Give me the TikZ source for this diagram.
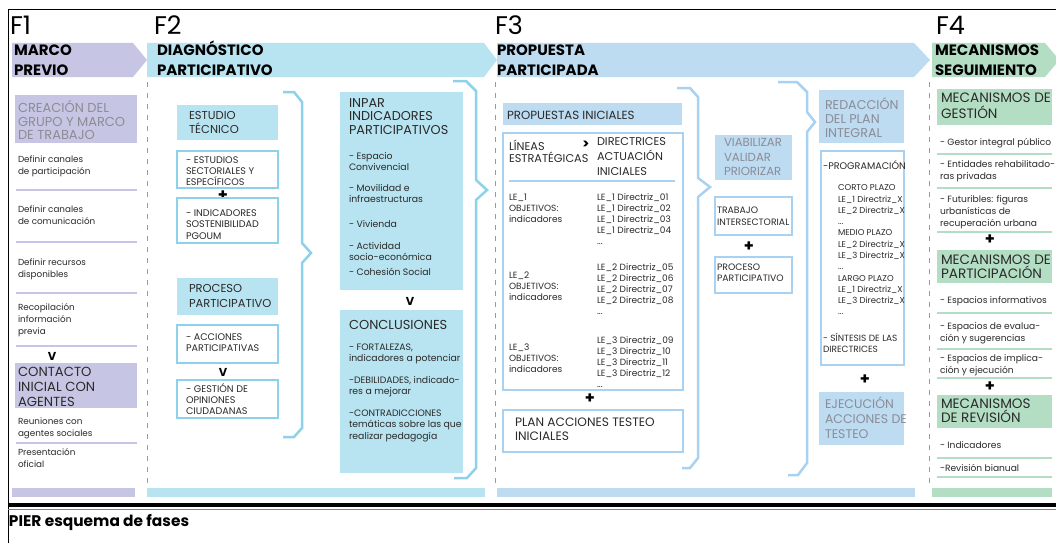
\documentclass[tikz,border=0pt]{standalone}
\usepackage{fontspec}
\setmainfont{Poppins}
\definecolor{lav}{HTML}{C6C6E4}
\definecolor{cyanF}{HTML}{B8E3F0}
\definecolor{blueF}{HTML}{BDDBF1}
\definecolor{greenF}{HTML}{B4DEC4}
\definecolor{cyanL}{HTML}{8DD2EA}
\definecolor{blueL}{HTML}{A9D2F2}
\definecolor{greyT}{HTML}{8C8C96}
\definecolor{darkT}{HTML}{2A2A2A}
\definecolor{dashG}{HTML}{9A9A9A}
\newcommand\fsz[2]{\fontsize{#1}{#2}\selectfont}
% invisible strut that gives every first line the same height
\newcommand\fst{\rule{0pt}{.7\baselineskip}}
\begin{document}
\begin{tikzpicture}[x=1pt,y=-1pt,
  t/.style={inner sep=0pt, outer sep=0pt, anchor=north west, align=left},
  tx/.style 2 args={t, font=\fsz{#1}{#2}, text=darkT, yshift={0.7*#2pt-0.34*#1pt}},
  tb/.style 2 args={tx={#1}{#2}, font=\bfseries\fsz{#1}{#2}, text=black},
  bx/.style={inner sep=0pt, outer sep=0pt, anchor=north west},
  olc/.style={bx, draw=cyanL, line width=2.5pt, fill=white},
  olb/.style={bx, draw=blueL, line width=2.5pt, fill=white},
  sym/.style={inner sep=0pt, font=\bfseries\fsz{16}{16}},
  vee/.style={inner sep=0pt, font=\bfseries\fsz{11.5}{11.5}},
  sepl/.style={line width=2.5pt},
  brc/.style={line width=2.5pt, line join=miter},
  dsh/.style={dashG, line width=0.6pt, dash pattern=on 5pt off 6pt},
]
\useasboundingbox (0,0) rectangle (1056,543);
\fill[white] (0,0) rectangle (1056,543);

% frame
\draw[line width=1pt] (8,543) -- (8,10) -- (1056,10);
\draw[line width=4pt] (8,505) -- (1056,505);
\draw[gray, line width=0.6pt] (8,509.5) -- (1056,509.5);
\node[tb={15.4}{18}] (title) at (9,521) {\fst PIER esquema de fases};

% phase bands
\fill[lav]    (12,43) -- (133,43) -- (147,60) -- (133,77) -- (12,77) -- cycle;
\fill[cyanF]  (147,43) -- (484,43) -- (497,60) -- (484,77) -- (147,77) -- cycle;
\fill[blueF]  (497,43) -- (914,43) -- (930,60) -- (914,77) -- (497,77) -- cycle;
\fill[greenF] (932,43) -- (1045,43) -- (1056,56) -- (1056,64) -- (1045,77) -- (932,77) -- cycle;

% phase labels
\node[tx={25.5}{30}, text=black] (f1) at (10,25.5) {\fst F1};
\node[tx={25.5}{30}, text=black] (f2) at (154,25.5) {\fst F2};
\node[tx={25.5}{30}, text=black] (f3) at (495,25.5) {\fst F3};
\node[tx={25.5}{30}, text=black] (f4) at (936,25.5) {\fst F4};
\node[tb={15}{20}] (h1) at (14,50) {\fst MARCO\\PREVIO};
\node[tb={15}{20}] (h2) at (157,50) {\fst DIAGNÓSTICO\\PARTICIPATIVO};
\node[tb={15}{20}] (h3) at (497,50) {\fst PROPUESTA\\PARTICIPADA};
\node[tb={15}{20}] (h4) at (935,50) {\fst MECANISMOS\\SEGUIMIENTO};

% dashed phase separators
\draw[dsh] (147,82) -- (147,486);
\draw[dsh] (495,82) -- (495,486);
\draw[dsh] (929,82) -- (929,486);

% bottom bars
\fill[lav]    (12,488) rectangle (135,497);
\fill[cyanF]  (147,488) rectangle (485,497);
\fill[blueF]  (497,488) rectangle (915,497);
\fill[greenF] (932,488) rectangle (1052,497);

% ---------------- F1 ----------------
\node[bx, fill=lav, minimum width=122pt, minimum height=48pt] (creacion) at (15,95) {};
\node[tx={13}{13.5}, text=greyT] (creacionT) at (18,105.5) {\fst CREACIÓN DEL\\GRUPO Y MARCO\\DE TRABAJO};
\node[tx={8.8}{12}] (i11) at (18,160) {\fst Definir canales\\de participación};
\draw[lav, sepl] (16,190) -- (137,190);
\node[tx={8.8}{12}] (i12) at (18,210) {\fst Definir canales\\de comunicación};
\draw[lav, sepl] (16,242) -- (137,242);
\node[tx={8.8}{12}] (i13) at (18,263) {\fst Definir recursos\\disponibles};
\draw[lav, sepl] (16,293) -- (137,293);
\node[tx={8.8}{12}] (i14) at (18,308) {\fst Recopilación\\información\\previa};
\draw[lav, sepl] (16,346) -- (137,346);
\node[vee] (v1) at (52,356) {V};
\node[bx, fill=lav, minimum width=122pt, minimum height=45pt] (contacto) at (15,363) {};
\node[tx={13.2}{15}] (contactoT) at (18,372) {\fst CONTACTO\\INICIAL CON\\AGENTES};
\node[tx={8.8}{12}] (i15) at (18,422) {\fst Reuniones con\\agentes sociales};
\draw[lav, sepl] (16,443) -- (137,443);
\node[tx={8.8}{12}] (i16) at (18,453) {\fst Presentación\\oficial};

% ---------------- F2 ----------------
\node[bx, fill=cyanF, minimum width=101pt, minimum height=35pt] (estudio) at (177,105) {};
\node[tx={11.5}{14}] (estudioT) at (189,116) {\fst ESTUDIO\\TÉCNICO};
\node[olc, minimum width=101pt, minimum height=37pt] (ob1) at (177,151) {};
\node[tx={9.6}{11}] (ob1T) at (186,160) {\fst - ESTUDIOS\\SECTORIALES Y\\ESPECÍFICOS};
\node[sym] (p21) at (223,196) {+};
\node[olc, minimum width=101pt, minimum height=45pt] (ob2) at (177,198) {};
\node[tx={9.6}{11.5}] (ob2T) at (186,213) {\fst - INDICADORES\\SOSTENIBILIDAD\\PGOUM};
\node[bx, fill=cyanF, minimum width=101pt, minimum height=37pt] (proceso) at (177,278) {};
\node[tx={11.5}{15}] (procesoT) at (189,289) {\fst PROCESO\\PARTICIPATIVO};
\node[olc, minimum width=101pt, minimum height=38pt] (ob3) at (177,325) {};
\node[tx={9.6}{11}] (ob3T) at (186,337) {\fst - ACCIONES\\PARTICIPATIVAS};
\node[vee] (v2) at (223,372) {V};
\node[olc, minimum width=101pt, minimum height=38pt] (ob4) at (177,380) {};
\node[tx={9.6}{11}] (ob4T) at (186,388) {\fst - GESTIÓN DE\\OPINIONES\\CIUDADANAS};
\draw[cyanL, brc] (283,92) -- (294,92) -- (302,102) -- (302,243) -- (311,253) -- (302,263) -- (302,428) -- (294,437) -- (283,437);

\node[bx, fill=cyanF, minimum width=123pt, minimum height=198pt] (inpar) at (340,92) {};
\node[tx={12.8}{13.5}] (inparT) at (349,103) {\fst INPAR\\INDICADORES\\PARTICIPATIVOS};
\node[tx={9.3}{11.5}] (ip1) at (349,156) {\fst - Espacio\\Convivencial};
\node[tx={9.3}{11.5}] (ip2) at (349,188) {\fst - Movilidad e\\infraestructuras};
\node[tx={9.3}{11.5}] (ip3) at (349,224) {\fst - Vivienda};
\node[tx={9.3}{11.5}] (ip4) at (349,246) {\fst - Actividad\\socio-económica};
\node[tx={9.3}{11.5}] (ip5) at (349,272) {\fst - Cohesión Social};
\node[vee] (v3) at (410,301) {V};
\node[bx, fill=cyanF, minimum width=123pt, minimum height=163pt] (concl) at (340,310) {};
\node[tx={13}{13.5}] (conclT) at (349,325) {\fst CONCLUSIONES};
\node[tx={9.3}{11.5}] (cc1) at (349,347) {\fst - FORTALEZAS,\\indicadores a potenciar};
\node[tx={9.3}{11.5}] (cc2) at (349,380) {\fst -DEBILIDADES, indicado-\\res a mejorar};
\node[tx={9.3}{11.5}] (cc3) at (349,413) {\fst -CONTRADICCIONES\\temáticas sobre las que\\realizar pedagogía};
\draw[cyanL, brc] (453,81) -- (466,81) -- (476,91) -- (476,180) -- (487,190) -- (476,200) -- (476,468) -- (467,478) -- (454,478);

% ---------------- F3 ----------------
\node[bx, fill=blueF, minimum width=179pt, minimum height=22pt] (propini) at (503,103) {};
\node[tx={11.8}{13}] (propiniT) at (507,115) {\fst PROPUESTAS INICIALES};
\node[olb, minimum width=180pt, minimum height=257pt] (lineas) at (503,133) {};
\node[tx={11.3}{12}] (lineasT) at (509,145) {\fst LÍNEAS\\ESTRATÉGICAS};
\node[inner sep=0pt, font=\bfseries\fsz{13}{13}] (gt) at (586,145) {>};
\node[tx={11.3}{15}] (dirT) at (597,142) {\fst DIRECTRICES\\ACTUACIÓN\\INICIALES};
\draw[blueL, line width=2pt] (509,181) -- (675,181);
\node[tx={9}{11}] (le1) at (509,197) {\fst LE\_1\\OBJETIVOS:\\indicadores};
\node[tx={9}{11}] (le2) at (509,275) {\fst LE\_2\\OBJETIVOS:\\indicadores};
\node[tx={9}{11}] (le3) at (509,347) {\fst LE\_3\\OBJETIVOS:\\indicadores};
\node[tx={9}{11}] (d1) at (597,197) {\fst LE\_1 Directriz\_01\\LE\_1 Directriz\_02\\LE\_1 Directriz\_03\\LE\_1 Directriz\_04\\...};
\node[tx={9}{11}] (d2) at (597,267) {\fst LE\_2 Directriz\_05\\LE\_2 Directriz\_06\\LE\_2 Directriz\_07\\LE\_2 Directriz\_08\\...};
\node[tx={9}{11}] (d3) at (597,340) {\fst LE\_3 Directriz\_09\\LE\_3 Directriz\_10\\LE\_3 Directriz\_11\\LE\_3 Directriz\_12\\...};
\node[sym] (p31) at (590,399) {+};
\node[olb, minimum width=180pt, minimum height=42pt] (plan) at (503,410) {};
\node[tx={12.2}{14}] (planT) at (515,422) {\fst PLAN ACCIONES TESTEO\\INICIALES};
\draw[blueL, brc] (677,88) -- (690,88) -- (698,97) -- (698,178) -- (710,187) -- (698,197) -- (698,458) -- (690,468) -- (682,468);

\node[bx, fill=blueF, minimum width=77pt, minimum height=45pt] (viab) at (715,135) {};
\node[tx={11.7}{14.5}, text=greyT] (viabT) at (724,143) {\fst VIABILIZAR\\VALIDAR\\PRIORIZAR};
\node[olb, minimum width=77pt, minimum height=38pt] (trab) at (715,197) {};
\node[tx={9.3}{12}] (trabT) at (717,210) {\fst TRABAJO\\INTERSECTORIAL};
\node[sym] (p32) at (749,247) {+};
\node[olb, minimum width=77pt, minimum height=36pt] (procp) at (715,257) {};
\node[tx={9.3}{11}] (procpT) at (717,267) {\fst PROCESO\\PARTICIPATIVO};
\draw[blueL, brc] (778,82) -- (797,82) -- (807,92) -- (807,112) -- (815,122) -- (807,132) -- (807,463) -- (798,475) -- (788,475);

\node[bx, fill=blueF, minimum width=85pt, minimum height=53pt] (redac) at (819,90) {};
\node[tx={12.7}{14}, text=greyT] (redacT) at (825,103) {\fst REDACCIÓN\\DEL PLAN\\INTEGRAL};
\node[olb, minimum width=83pt, minimum height=214pt] (prog) at (821,151) {};
\node[tx={9.6}{11}] (progT) at (823,165) {\fst -PROGRAMACIÓN};
\node[tx={8.5}{11.27}] (progL) at (838,188) {\fst CORTO PLAZO\\LE\_1 Directriz\_X\\LE\_2 Directriz\_X\\...\\MEDIO PLAZO\\LE\_2 Directriz\_X\\LE\_3 Directriz\_X\\...\\LARGO PLAZO\\LE\_1 Directriz\_X\\LE\_3 Directriz\_X\\...};
\node[tx={9}{11}] (sint) at (823,338) {\fst - SÍNTESIS DE LAS\\DIRECTRICES};
\node[sym] (p33) at (865,380) {+};
\node[bx, fill=blueF, minimum width=85pt, minimum height=53pt] (ejec) at (819,392) {};
\node[tx={12.5}{15}, text=greyT] (ejecT) at (825,403) {\fst EJECUCIÓN\\ACCIONES DE\\TESTEO};

% ---------------- F4 ----------------
\node[bx, fill=greenF, minimum width=115pt, minimum height=36pt] (gest) at (937,89) {};
\node[tx={13.6}{16}] (gestT) at (941,98) {\fst MECANISMOS DE\\GESTIÓN};
\node[tx={9.1}{12}] (g1) at (940,142) {\fst - Gestor integral público};
\draw[greenF, sepl] (937,154) -- (1052,154);
\node[tx={9.1}{12}] (g2) at (940,164) {\fst - Entidades rehabilitado-\\ras privadas};
\draw[greenF, sepl] (937,188) -- (1052,188);
\node[tx={9.1}{12}] (g3) at (940,199) {\fst - Futuribles: figuras\\urbanísticas de\\recuperación urbana};
\draw[greenF, sepl] (937,232) -- (1052,232);
\node[sym] (p41) at (990,240) {+};
\node[bx, fill=greenF, minimum width=115pt, minimum height=33pt] (partic) at (937,250) {};
\node[tx={13.6}{14}] (particT) at (941,260) {\fst MECANISMOS DE\\PARTICIPACIÓN};
\node[tx={9.1}{12}] (pa1) at (940,300) {\fst - Espacios informativos};
\draw[greenF, sepl] (937,313) -- (1052,313);
\node[tx={9.1}{12}] (pa2) at (940,326) {\fst - Espacios de evalua-\\ción y sugerencias};
\draw[greenF, sepl] (937,349) -- (1052,349);
\node[tx={9.1}{12}] (pa3) at (940,358) {\fst - Espacios de implica-\\ción y ejecución};
\draw[greenF, sepl] (937,378) -- (1052,378);
\node[sym] (p42) at (990,387) {+};
\node[bx, fill=greenF, minimum width=115pt, minimum height=33pt] (revis) at (937,395) {};
\node[tx={13.6}{14}] (revisT) at (941,404) {\fst MECANISMOS\\DE REVISIÓN};
\node[tx={9.1}{12}] (r1) at (940,445) {\fst - Indicadores};
\draw[greenF, sepl] (937,458) -- (1052,458);
\node[tx={9.1}{12}] (r2) at (940,468) {\fst -Revisión bianual};
\draw[greenF, sepl] (937,477) -- (1052,477);
\end{tikzpicture}
\end{document}
